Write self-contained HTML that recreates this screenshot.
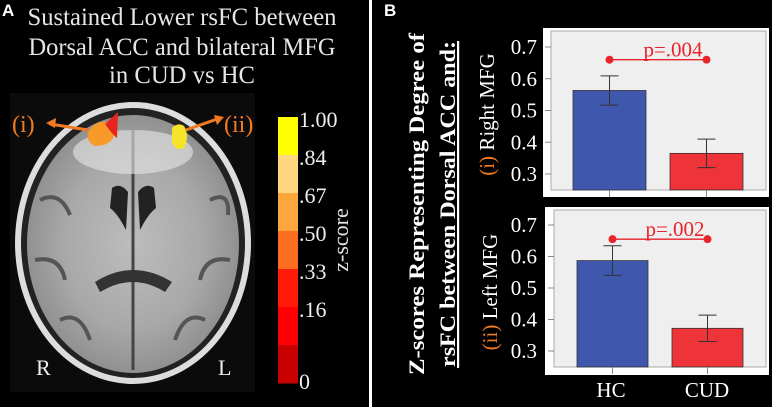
<!DOCTYPE html>
<html><head><meta charset="utf-8"><style>
body{margin:0;background:#000;width:772px;height:407px;overflow:hidden}
svg{display:block}
text{font-family:"Liberation Serif",serif}
</style></head><body>
<svg width="772" height="407" viewBox="0 0 772 407">
<defs>
<radialGradient id="brainG" cx="50%" cy="50%" r="55%">
<stop offset="0" stop-color="#bdbdbd"/><stop offset="0.6" stop-color="#a8a8a8"/><stop offset="1" stop-color="#8a8a8a"/>
</radialGradient>
</defs>
<rect width="772" height="407" fill="#000"/>
<rect x="369" y="0" width="3" height="407" fill="#fff"/>
<text x="2" y="16" font-family="Liberation Sans" font-weight="bold" font-size="17" fill="#fff" style="font-family:'Liberation Sans',sans-serif">A</text>
<text x="384" y="16" font-weight="bold" font-size="17" fill="#fff" style="font-family:'Liberation Sans',sans-serif">B</text>
<g fill="#e6e6e6" font-size="25" text-anchor="middle">
<text x="182" y="25" textLength="309" lengthAdjust="spacingAndGlyphs">Sustained Lower rsFC between</text>
<text x="182" y="55" textLength="307" lengthAdjust="spacingAndGlyphs">Dorsal ACC and bilateral MFG</text>
<text x="182" y="83" textLength="146" lengthAdjust="spacingAndGlyphs">in CUD vs HC</text>
</g>
<g>
<rect x="10" y="93" width="245" height="299" fill="#0b0b0b"/>
<ellipse cx="133" cy="243" rx="118" ry="141" fill="#ddd"/>
<ellipse cx="133" cy="243" rx="112" ry="135" fill="#222"/>
<ellipse cx="133" cy="244" rx="106" ry="129" fill="url(#brainG)"/>
<path d="M40 200 Q60 190 70 215 M35 260 Q60 255 65 280 M210 200 Q230 190 228 215 M230 260 Q205 255 200 280 M60 320 Q80 310 90 340 M205 320 Q185 310 175 340" stroke="#555" stroke-width="4" fill="none"/>
<path d="M133 130 L133 370" stroke="#444" stroke-width="3"/>
<path d="M112 188 Q120 182 128 192 L126 230 Q118 214 110 208Z M154 188 Q146 182 138 192 L140 230 Q148 214 156 208Z" fill="#222"/>
<path d="M95 282 Q133 258 172 282 L165 292 Q133 272 100 292Z" fill="#333"/>
<ellipse cx="133" cy="152" rx="60" ry="22" fill="#e8e8e8" opacity="0.6"/>
<text x="36" y="375" font-size="22" fill="#eee">R</text>
<text x="218" y="375" font-size="22" fill="#eee">L</text>
<path d="M88 132 Q95 120 108 122 L116 124 L118 112 L114 136 Q110 146 95 146 Q86 142 88 132Z" fill="#f79a2a"/>
<path d="M105 124 L118 112 L117 138 Q112 134 105 124Z" fill="#e8231e"/>
<path d="M172 128 Q178 122 184 126 Q190 136 184 148 Q176 152 172 142Z" fill="#f6e42a"/>
<path d="M88 130 L50 124" stroke="#f47a22" stroke-width="3"/>
<polygon points="46,123 56,118 55,128" fill="#f47a22"/>
<path d="M186 130 L220 118" stroke="#f47a22" stroke-width="3"/>
<polygon points="224,117 214,115 217,125" fill="#f47a22"/>
<text x="12" y="132" font-size="24" fill="#f47a22">(i)</text>
<text x="224" y="132" font-size="24" fill="#f47a22">(ii)</text>
</g>
<g id="cbar"></g>
<text transform="translate(348,240) rotate(-90)" font-size="22" fill="#e6e6e6" text-anchor="middle">z-score</text>
<g fill="#fff" font-weight="bold" font-size="22" text-anchor="middle">
<text transform="translate(424,204) rotate(-90)" textLength="342" lengthAdjust="spacingAndGlyphs">Z-scores Representing Degree of</text>
<text transform="translate(455,204) rotate(-90)" textLength="326" lengthAdjust="spacingAndGlyphs" text-decoration="underline">rsFC between Dorsal ACC and:</text>
<rect x="457" y="43" width="2" height="325" fill="#fff"/>
</g>
<g id="charts"></g>
</svg>
<script>
const cbarLabels=["1.00",".84",".67",".50",".33",".16","0"];
const cbarColors=["#ffff00","#ffd680","#fda63e","#fb6e1e","#ff1a0a","#ff0000","#c80000"];
const groups=["HC","CUD"];
const rightMeans=[0.563,0.365];
const rightErr=[0.046,0.045];
const leftMeans=[0.587,0.372];
const leftErr=[0.047,0.042];
const yTicks=[0.3,0.4,0.5,0.6,0.7];
const yTickLabels=["0.3","0.4","0.5","0.6","0.7"];
const pLabels=["p=.004","p=.002"];
const pLevels=[0.66,0.655];
const NS="http://www.w3.org/2000/svg";
function mk(tag,attrs,parent){const e=document.createElementNS(NS,tag);for(const k in attrs)e.setAttribute(k,attrs[k]);parent.appendChild(e);return e;}
// colorbar
const cb=document.getElementById('cbar');
const cbTop=117,cbBot=383,segH=(cbBot-cbTop)/cbarColors.length;
cbarColors.forEach((c,i)=>{const r=mk('rect',{x:278,y:cbTop+i*segH,width:20,height:segH+0.5,fill:c},cb);

});
cbarLabels.forEach((l,i)=>{const y=i==0?cbTop+10:(i==cbarLabels.length-1?cbBot+6:cbTop+i*segH+10);
const t=mk('text',{x:299,y:y,'font-size':22,fill:'#eee'},cb);t.textContent=l;

});
// charts
const charts=document.getElementById('charts');
const panels=[
 {box:[543,28,769,197],axL:551,axB:190,y07:47,y03:174,means:rightMeans,err:rightErr,p:0,bars:[[573,646],[670,743]],name:'right-mfg-chart',lab:['(i)',' Right MFG'],labX:487},
 {box:[545,207,769,375],axL:554,axB:367,y07:225,y03:351,means:leftMeans,err:leftErr,p:1,bars:[[577,648],[672,743]],name:'left-mfg-chart',lab:['(ii)',' Left MFG'],labX:490}
];
const barColors=["#3f58ad","#ee3339"];
panels.forEach(P=>{
 const g=mk('g',{},charts);
 
 
 const ys=v=>P.y03+(v-0.3)/(0.4)*(P.y07-P.y03);
 const [x0,y0,x1,y1]=P.box;
 mk('rect',{x:x0,y:y0,width:x1-x0,height:y1-y0,fill:'#fff'},g);
 mk('rect',{x:P.axL,y:y0+3,width:x1-3-P.axL,height:P.axB-y0-3,fill:'#efefef'},g);
 mk('line',{x1:P.axL,y1:y0+3,x2:P.axL,y2:P.axB,stroke:'#888','stroke-width':1},g);
 mk('line',{x1:P.axL,y1:P.axB,x2:x1-3,y2:P.axB,stroke:'#888','stroke-width':1},g);
 mk('rect',{x:P.axL,y:y0+3,width:x1-3-P.axL,height:P.axB-y0-3,fill:'none',stroke:'#aaa','stroke-width':1},g);
 yTicks.forEach((v,i)=>{const y=ys(v);
  mk('line',{x1:P.axL-6,y1:y,x2:P.axL,y2:y,stroke:'#888'},g);
  const t=mk('text',{x:537,y:y+7,'font-size':21,fill:'#fff','text-anchor':'end'},g);t.textContent=yTickLabels[i];
  
  });
 groups.forEach((gname,i)=>{const [bx0,bx1]=P.bars[i];const top=ys(P.means[i]);const cx=(bx0+bx1)/2;
  const r=mk('rect',{x:bx0,y:top,width:bx1-bx0,height:P.axB-top,fill:barColors[i],stroke:'#333','stroke-width':0.8},g);
  
  
  const eh=ys(P.means[i]+P.err[i]),el=ys(P.means[i]-P.err[i]);
  const e=mk('path',{d:`M${cx} ${eh}V${el}M${cx-9} ${eh}H${cx+9}M${cx-9} ${el}H${cx+9}`,stroke:'#333','stroke-width':1,fill:'none'},g);
  
  
  mk('line',{x1:cx,y1:P.axB,x2:cx,y2:P.axB+7,stroke:'#888'},g);
 });
 const py=ys(pLevels[P.p]);const c0=(P.bars[0][0]+P.bars[0][1])/2,c1=(P.bars[1][0]+P.bars[1][1])/2;
 const pl=mk('line',{x1:c0,y1:py,x2:c1,y2:py,stroke:'#e8232a','stroke-width':1.3},g);
 
 
 mk('circle',{cx:c0,cy:py,r:4,fill:'#e8232a'},g);mk('circle',{cx:c1,cy:py,r:4,fill:'#e8232a'},g);
 const pt=mk('text',{x:(c0+c1)/2+15,y:py-3,'font-size':21,fill:'#e8232a','text-anchor':'middle'},g);pt.textContent=pLabels[P.p];
 
 
 const yc=(ys(0.7)+P.axB)/2-4;
 const lt=mk('text',{transform:`translate(${P.labX+7},${yc}) rotate(-90)`,'font-size':21,fill:'#fff','text-anchor':'middle'},g);
 
 
 const s1=mk('tspan',{fill:'#f47a22'},lt);s1.textContent=P.lab[0];
 const s2=mk('tspan',{},lt);s2.textContent=P.lab[1];
});
groups.forEach((gname,i)=>{const cx=[611,707][i];
 const t=mk('text',{x:cx,y:397,'font-size':21,fill:'#fff','text-anchor':'middle'},charts);t.textContent=gname;
 
 });
</script>
</body></html>
